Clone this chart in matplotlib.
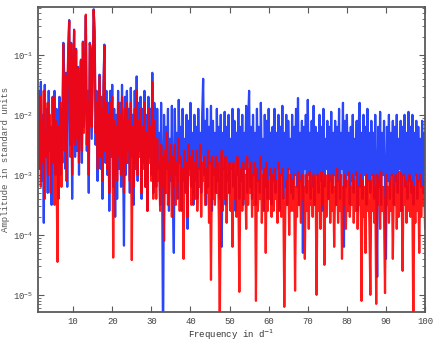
# amplitude spectra, two series on a log scale
import numpy as np
import matplotlib.pyplot as plt

# frequency grid start and step (d^-1)
f0 = 1.0
df = 0.25

# log10 amplitudes, 20 values per row = 5 d^-1
blue_log = [
    -2.3, -1.6, -2.9, -1.45, -3.1, -2.0, -3.8, -1.5, -2.7, -1.9, -3.3, -1.6, -2.6, -2.2, -3.5, -1.7, -2.8, -1.6, -3.0, -1.9,
    -2.1, -3.4, -1.7, -3.0, -1.9, -2.8, -0.8, -1.4, -2.9, -1.3, -3.2, -0.9, -0.42, -2.5, -0.8, -3.4, -1.6, -0.58, -2.7, -0.9,
    -2.6, -1.2, -3.0, -1.5, -1.08, -2.8, -0.78, -2.2, -1.4, -0.35, -2.6, -1.6, -3.3, -0.8, -0.88, -2.4, -1.3, -0.24, -0.62, -2.5,
    -1.6, -3.1, -1.9, -1.33, -2.9, -1.7, -3.4, -1.5, -0.83, -2.8, -1.6, -3.0, -1.8, -3.6, -1.6, -2.7, -1.5, -3.2, -1.9, -3.7,
    -2.0, -3.4, -1.6, -2.9, -1.8, -3.2, -1.5, -2.6, -4.18, -1.7, -3.0, -1.6, -2.8, -1.9, -3.3, -1.55, -2.7, -2.0, -3.5, -1.6,
    -2.9, -1.36, -3.1, -1.8, -2.6, -1.7, -3.4, -1.9, -2.8, -1.6, -3.2, -2.0, -3.6, -1.7, -2.7, -1.9, -3.0, -1.3, -3.3, -1.8,
    -2.1, -3.2, -1.9, -2.9, -2.3, -3.5, -1.8, -3.0, -6.0, -2.0, -3.3, -2.2, -2.9, -1.9, -3.6, -2.4, -3.1, -1.85, -3.4, -4.3,
    -1.9, -3.0, -2.3, -3.4, -1.75, -2.8, -2.2, -3.6, -1.9, -3.1, -2.4, -3.3, -2.0, -3.9, -2.1, -2.9, -1.8, -3.2, -2.3, -3.5,
    -2.0, -3.1, -2.2, -3.4, -1.9, -2.9, -2.3, -3.3, -2.0, -1.4, -3.0, -2.1, -3.5, -1.9, -3.2, -2.2, -2.8, -1.85, -3.6, -2.1,
    -3.0, -2.3, -3.3, -1.9, -3.1, -2.2, -3.4, -2.0, -4.2, -2.3, -2.9, -1.95, -3.5, -2.2, -3.1, -2.0, -3.3, -2.4, -2.9, -1.9,
    -3.2, -2.1, -3.6, -2.3, -3.0, -1.9, -3.4, -2.2, -3.1, -2.0, -3.5, -2.3, -2.9, -1.85, -3.3, -2.1, -1.6, -3.2, -2.2, -3.4,
    -2.0, -3.0, -2.3, -3.5, -1.9, -3.1, -2.2, -3.3, -1.8, -2.9, -2.4, -3.6, -2.0, -3.2, -2.1, -3.4, -1.9, -3.0, -2.3, -3.5,
    -2.2, -3.1, -1.9, -3.3, -2.3, -2.9, -2.0, -3.6, -2.2, -3.0, -1.85, -3.4, -2.3, -3.2, -2.0, -3.5, -2.1, -2.9, -2.4, -3.3,
    -2.0, -3.4, -2.2, -3.0, -1.9, -3.2, -1.72, -3.5, -2.3, -3.1, -2.1, -4.3, -2.2, -2.9, -2.0, -3.3, -1.75, -3.0, -2.3, -3.4,
    -2.1, -3.2, -1.85, -3.5, -2.2, -3.0, -2.3, -3.3, -2.0, -3.1, -2.2, -3.6, -1.9, -3.2, -2.4, -2.9, -2.1, -3.4, -2.2, -3.1,
    -1.95, -3.3, -2.3, -3.0, -2.1, -3.5, -2.2, -3.1, -1.9, -3.4, -2.3, -2.9, -1.8, -4.2, -2.1, -3.2, -2.0, -3.0, -2.3, -3.5,
    -2.2, -3.1, -2.0, -3.3, -2.4, -3.0, -2.1, -3.6, -2.2, -1.8, -3.2, -2.3, -3.4, -2.0, -3.0, -2.2, -3.5, -1.9, -3.1, -2.3,
    -3.3, -2.1, -3.0, -2.3, -3.4, -2.0, -3.1, -4.7, -2.2, -3.2, -1.95, -3.5, -2.3, -3.0, -2.1, -3.3, -4.4, -2.2, -3.1, -2.0,
    -3.4, -2.3, -3.0, -2.1, -3.5, -2.2, -3.1, -2.0, -3.3, -2.4, -2.9, -2.1, -3.6, -2.2, -3.0, -2.0, -3.2, -2.3, -3.4, -1.95,
    -3.1, -2.2, -3.3, -2.0, -3.5, -2.3, -3.0, -2.1, -3.4, -2.2, -3.1, -2.4, -3.2, -2.1, -3.3, -2.3, -3.0, -2.2, -3.4, -2.1,
]

red_log = [
    -2.2, -2.9, -1.7, -3.2, -2.1, -2.8, -1.6, -3.4, -2.3, -2.7, -1.8, -3.0, -2.0, -3.3, -2.2, -2.8, -1.7, -3.5, -2.1, -2.9,
    -4.45, -2.2, -2.9, -1.8, -3.2, -2.0, -0.82, -2.6, -1.35, -3.1, -1.6, -0.92, -0.44, -2.7, -0.82, -3.0, -1.7, -0.6, -2.5, -0.92,
    -2.4, -1.22, -2.8, -1.7, -1.1, -2.6, -0.8, -2.3, -1.6, -0.33, -2.5, -1.8, -3.0, -0.82, -0.9, -2.2, -1.5, -0.26, -0.64, -2.3,
    -1.8, -2.9, -2.1, -1.35, -2.7, -1.9, -3.1, -1.7, -0.85, -2.6, -1.8, -2.9, -2.0, -3.3, -1.8, -2.6, -1.7, -4.38, -2.1, -3.0,
    -2.2, -3.1, -1.8, -2.7, -2.0, -3.0, -1.7, -2.5, -3.3, -1.9, -2.8, -1.8, -2.6, -2.1, -3.1, -1.8, -4.42, -2.2, -3.2, -1.9,
    -2.8, -1.6, -3.0, -2.1, -2.7, -1.9, -3.3, -2.2, -2.9, -1.8, -3.2, -2.3, -3.6, -1.9, -2.8, -2.2, -3.1, -1.45, -3.4, -2.1,
    -2.6, -3.4, -2.4, -3.1, -2.8, -3.6, -2.5, -3.2, -2.7, -4.1, -2.6, -3.3, -2.3, -3.5, -2.8, -3.0, -2.5, -3.7, -2.7, -3.2,
    -2.5, -3.5, -2.8, -3.1, -2.4, -3.6, -2.7, -3.3, -2.9, -4.4, -2.6, -3.2, -2.8, -3.7, -2.5, -3.0, -2.7, -3.5, -2.6, -3.3,
    -2.8, -3.4, -2.6, -3.6, -2.9, -3.2, -2.5, -3.7, -2.8, -3.1, -2.7, -3.5, -2.9, -3.3, -2.6, -3.8, -2.8, -4.75, -2.7, -3.4,
    -2.9, -3.5, -2.7, -3.3, -2.8, -3.7, -5.6, -3.2, -2.6, -3.6, -2.9, -3.4, -2.7, -3.8, -3.0, -3.3, -2.8, -3.6, -2.9, -4.2,
    -2.8, -3.4, -3.0, -3.7, -2.7, -3.3, -4.95, -3.1, -2.9, -3.6, -2.8, -3.4, -3.0, -3.9, -2.7, -3.5, -2.9, -3.3, -2.8, -3.7,
    -3.0, -3.5, -2.8, -5.1, -2.9, -3.6, -3.1, -3.4, -2.7, -3.8, -3.0, -3.3, -2.9, -4.3, -2.8, -3.6, -3.1, -3.4, -2.9, -3.7,
    -3.0, -3.6, -2.9, -3.4, -3.1, -3.8, -2.8, -3.5, -3.0, -3.7, -2.9, -3.4, -5.2, -3.6, -3.1, -3.5, -2.9, -4.0, -3.0, -3.6,
    -3.1, -3.6, -3.0, -4.93, -3.2, -3.7, -2.95, -3.5, -3.1, -3.8, -3.0, -3.4, -3.2, -4.4, -3.0, -3.6, -3.1, -3.9, -2.95, -3.5,
    -3.2, -3.7, -3.0, -3.5, -3.1, -5.0, -3.0, -3.6, -3.2, -3.9, -2.95, -3.5, -3.1, -4.5, -3.0, -3.7, -3.2, -3.4, -3.0, -3.8,
    -3.1, -3.6, -3.0, -4.2, -3.2, -3.5, -2.9, -3.8, -3.1, -3.6, -3.0, -4.4, -3.2, -3.5, -3.0, -3.9, -3.1, -3.6, -2.95, -3.7,
    -3.2, -3.5, -3.0, -3.8, -3.1, -3.6, -2.95, -3.9, -3.2, -3.5, -3.0, -5.1, -3.1, -3.7, -3.2, -4.3, -3.0, -3.6, -3.1, -3.8,
    -5.0, -3.1, -3.6, -3.0, -3.8, -3.2, -5.15, -3.0, -3.5, -3.1, -3.9, -2.95, -3.6, -3.2, -3.7, -4.97, -3.0, -3.5, -3.2, -3.8,
    -3.1, -3.6, -3.0, -4.4, -3.2, -3.5, -3.0, -3.9, -3.1, -3.7, -2.95, -3.6, -3.2, -4.6, -3.0, -3.5, -3.1, -3.8, -3.2, -3.6,
    -3.0, -3.7, -3.1, -3.5, -5.6, -3.2, -3.8, -3.0, -3.6, -3.1, -4.3, -3.0, -3.7, -3.2, -3.5, -3.1, -3.9, -3.0, -3.6, -3.2,
]

x_ticks = [10, 20, 30, 40, 50, 60, 70, 80, 90, 100]

freq = f0 + df * np.arange(len(blue_log))
blue_amp = 10.0 ** np.array(blue_log)
red_amp = 10.0 ** np.array(red_log)

grey = '#5a5a5a'
plt.rcParams['font.family'] = ['Liberation Mono', 'DejaVu Sans Mono']

fig = plt.figure(figsize=(4.36, 3.42), dpi=100)
ax = fig.add_axes([0.087, 0.088, 0.888, 0.892])

ax.plot(freq, blue_amp, color='#2a46f8', lw=1.6)
ax.plot(freq, red_amp, color='#ff0000', lw=1.6, alpha=0.9)

ax.set_yscale('log')
ax.set_xlim(1, 100)
ax.set_ylim(5.2e-6, 0.63)
ax.set_xticks(x_ticks)

ax.set_xlabel('Frequency in d$^{-1}$', fontsize=6.5, color='#333333', labelpad=1)
ax.set_ylabel('Amplitude in standard units', fontsize=6.5, color='#555555', labelpad=2)

for s in ax.spines.values():
    s.set_color(grey)
    s.set_linewidth(1.3)
ax.tick_params(which='both', direction='in', top=True, right=True,
               colors=grey, labelsize=6.5, labelcolor='#444444')
ax.tick_params(which='major', length=4, width=0.8)
ax.tick_params(which='minor', length=2, width=0.6)
ax.tick_params(axis='x', which='minor', bottom=False, top=False)

fig.savefig('out.png', dpi=100)
